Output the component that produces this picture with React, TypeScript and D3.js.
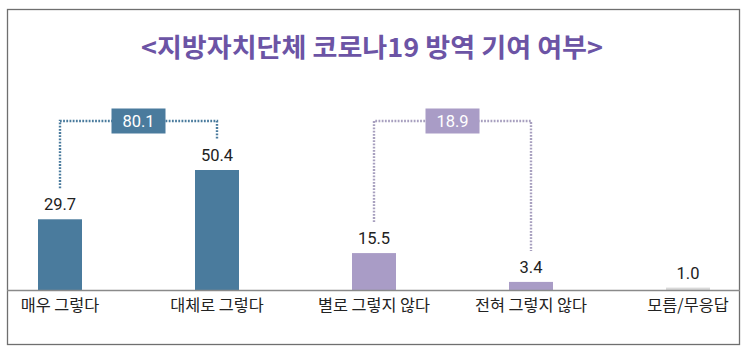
import React, { useRef, useEffect } from 'react';
import * as d3 from 'd3';

const categories = ['매우 그렇다', '대체로 그렇다', '별로 그렇지 않다', '전혀 그렇지 않다', '모름/무응답'];
const values = [29.7, 50.4, 15.5, 3.4, 1.0];
const barColors = ['#4a7b9d', '#4a7b9d', '#a99cc6', '#a99cc6', '#d9d9d9'];
const groupTotals = [
  { from: 0, to: 1, total: 80.1, color: '#4a7b9d', line: '#4a7b9d' },
  { from: 2, to: 3, total: 18.9, color: '#a99cc6', line: '#a8a0bf' },
];
const title = '<지방자치단체 코로나19 방역 기여 여부>';

const App = () => {
  const ref = useRef<SVGSVGElement>(null);

  useEffect(() => {
    const svg = d3.select(ref.current);
    svg.selectAll('*').remove();

    const width = 750;
    const height = 354;
    const font = '"Noto Sans CJK KR", "Noto Sans", sans-serif';
    const numFont = 'Roboto, "Noto Sans", sans-serif';
    const baseY = 290;
    const barW = 44;

    const x = d3.scalePoint<number>()
      .domain(d3.range(categories.length))
      .range([60, 688]);

    const y = d3.scaleLinear()
      .domain([0, 50.4])
      .range([baseY, 170]);

    svg.attr('width', width).attr('height', height);

    // frame
    svg.append('rect')
      .attr('x', 7.5).attr('y', 9.5)
      .attr('width', 732).attr('height', 335)
      .attr('fill', 'white')
      .attr('stroke', '#6f6f6f')
      .attr('stroke-width', 1.3);

    svg.append('text')
      .attr('x', 372)
      .attr('y', 57)
      .attr('text-anchor', 'middle')
      .attr('font-family', font)
      .attr('font-weight', 700)
      .attr('font-size', 26)
      .attr('fill', '#6c54a5')
      .attr('textLength', 462)
      .attr('lengthAdjust', 'spacingAndGlyphs')
      .text(title);

    // bars
    svg.append('g')
      .selectAll('rect')
      .data(values)
      .enter()
      .append('rect')
      .attr('x', (d, i) => x(i)! - barW / 2)
      .attr('y', d => y(d))
      .attr('width', barW)
      .attr('height', d => baseY - y(d))
      .attr('fill', (d, i) => barColors[i]);

    // baseline
    svg.append('line')
      .attr('x1', 7).attr('x2', 740)
      .attr('y1', baseY + 0.5).attr('y2', baseY + 0.5)
      .attr('stroke', '#8a8a8a')
      .attr('stroke-width', 1.3);

    // value labels
    svg.append('g')
      .selectAll('text')
      .data(values)
      .enter()
      .append('text')
      .attr('x', (d, i) => x(i)!)
      .attr('y', d => y(d) - 9)
      .attr('text-anchor', 'middle')
      .attr('font-family', numFont)
      .attr('font-size', 16.5)
      .attr('fill', '#222')
      .text(d => d.toFixed(1));

    // category labels
    svg.append('g')
      .selectAll('text')
      .data(categories)
      .enter()
      .append('text')
      .attr('x', (d, i) => x(i)!)
      .attr('y', 311)
      .attr('text-anchor', 'middle')
      .attr('font-family', font)
      .attr('font-size', 16.3)
      .attr('fill', '#222')
      .text(d => d);

    // group brackets with totals
    const lineY = 121;
    groupTotals.forEach(g => {
      const x1 = x(g.from)!;
      const x2 = x(g.to)!;
      const end1 = y(values[g.from]) - 31;
      const end2 = y(values[g.to]) - 31;
      svg.append('path')
        .attr('d', `M${x1},${end1}V${lineY}H${x2}V${end2}`)
        .attr('fill', 'none')
        .attr('stroke', g.line)
        .attr('stroke-width', 2.4)
        .attr('stroke-dasharray', '1.8 1.4');

      const cx = (x1 + x2) / 2;
      svg.append('rect')
        .attr('x', cx - 27)
        .attr('y', lineY - 12.5)
        .attr('width', 54)
        .attr('height', 25)
        .attr('fill', g.color);
      svg.append('text')
        .attr('x', cx)
        .attr('y', lineY + 6)
        .attr('text-anchor', 'middle')
        .attr('font-family', numFont)
        .attr('font-size', 16.5)
        .attr('fill', 'white')
        .text(g.total.toFixed(1));
    });
  }, []);

  return <svg ref={ref} style={{ position: 'absolute', left: 0, top: 0 }}></svg>;
};

export default App;
